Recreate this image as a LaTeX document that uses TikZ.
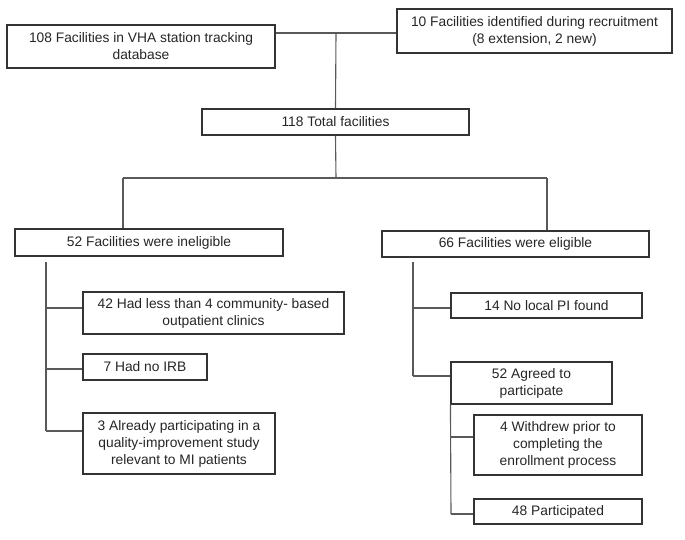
\documentclass[tikz,border=0pt]{standalone}
\usepackage{fontspec}
\setmainfont{Liberation Sans}
\begin{document}
\begin{tikzpicture}[x=1pt,y=-1pt,
  bx/.style={draw=black!80, line width=1.1pt, fill=white, align=center, inner sep=0pt,
    font=\fontsize{13.8}{17}\selectfont, text=black!85},
  ln/.style={draw=black!65, line width=1.1pt}]
\useasboundingbox (0,0) rectangle (685,539);
% boxes
\node[bx, minimum width=268pt, minimum height=43pt] (A) at (141,46.5) {108 Facilities in VHA station tracking\\database};
\node[bx, minimum width=275pt, minimum height=44pt] (B) at (534.5,31) {10 Facilities identified during recruitment\\(8 extension, 2 new)};
\node[bx, minimum width=267pt, minimum height=26pt] (C) at (335.5,122) {118 Total facilities};
\node[bx, minimum width=268pt, minimum height=27pt] (D) at (149,242.5) {52 Facilities were ineligible};
\node[bx, minimum width=267pt, minimum height=26pt] (E) at (515.5,244) {66 Facilities were eligible};
\node[bx, minimum width=261pt, minimum height=42pt] (F) at (213.5,313) {42 Had less than 4 community- based\\outpatient clinics};
\node[bx, minimum width=124pt, minimum height=26pt] (G) at (145,367) {7 Had no IRB};
\node[bx, minimum width=192pt, minimum height=61pt] (H) at (179,443.5) {3 Already participating in a\\quality-improvement study\\relevant to MI patients};
\node[bx, minimum width=191pt, minimum height=25pt] (I) at (546.5,305.5) {14 No local PI found};
\node[bx, minimum width=161pt, minimum height=42pt] (J) at (531.5,383) {52 Agreed to\\participate};
\node[bx, minimum width=168pt, minimum height=60pt] (K) at (558,445) {4 Withdrew prior to\\completing the\\enrollment process};
\node[bx, minimum width=168pt, minimum height=25pt] (L) at (558,511.5) {48 Participated};
% junction coordinates
\coordinate (top) at (336,33);
\coordinate (sp) at (336,178);
\coordinate (dl) at (123,178);
\coordinate (er) at (547,178);
\coordinate (dt) at (46,262);
\coordinate (f1) at (46,308);
\coordinate (g1) at (46,369);
\coordinate (h1) at (46,431);
\coordinate (et) at (413,262);
\coordinate (i1) at (413,308);
\coordinate (j1) at (413,376);
\coordinate (k1) at (451,437);
\coordinate (l1) at (451,514);
% connectors
\draw[ln] (A.east |- top) -- (B.west |- top);
\draw[ln] (top) -- (C.north);
\draw[ln] (C.south) -- (sp);
\draw[ln] (dl) -- (er);
\draw[ln] (dl) -- (dl |- D.north);
\draw[ln] (er) -- (er |- E.north);
\draw[ln] (dt) -- (h1);
\draw[ln] (f1) -- (f1 -| F.west);
\draw[ln] (g1) -- (g1 -| G.west);
\draw[ln] (h1) -- (h1 -| H.west);
\draw[ln] (et) -- (j1);
\draw[ln] (i1) -- (i1 -| I.west);
\draw[ln] (j1) -- (j1 -| J.west);
\draw[ln] (J.south west) -- (l1);
\draw[ln] (k1) -- (k1 -| K.west);
\draw[ln] (l1) -- (l1 -| L.west);
\end{tikzpicture}
\end{document}
